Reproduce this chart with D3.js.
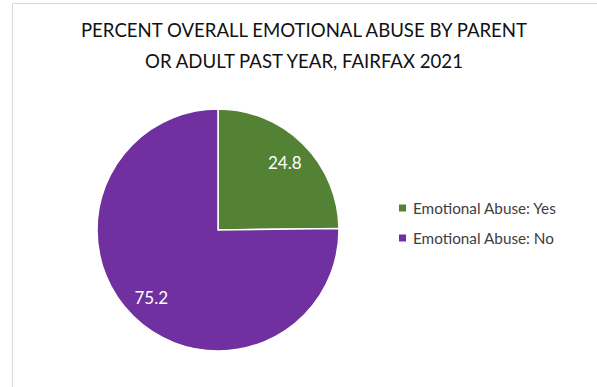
<!DOCTYPE html>
<html>
<head>
<meta charset="utf-8">
<script src="https://cdn.jsdelivr.net/npm/d3@7"></script>
<style>
  html, body { margin: 0; padding: 0; background: #fff; }
  svg { display: block; }
</style>
</head>
<body>
<svg id="chart" width="597" height="387"></svg>
<script>
// Chart data
const titleLines = ["PERCENT OVERALL EMOTIONAL ABUSE BY PARENT", "OR ADULT PAST YEAR, FAIRFAX 2021"];
const categories = ["Emotional Abuse: Yes", "Emotional Abuse: No"];
const values = [24.8, 75.2];
const colors = ["#548235", "#7030A0"];

const svg = d3.select("#chart");
const font = "Lato, 'Open Sans', sans-serif";

// chart frame
svg.append("path")
  .attr("d", "M12.5,387 V3.5 H597")
  .attr("fill", "none")
  .attr("stroke", "#d9d9d9")
  .attr("stroke-width", 1);

// title
svg.append("text")
  .attr("x", 304)
  .attr("y", 37)
  .attr("text-anchor", "middle")
  .attr("font-family", font)
  .attr("font-size", 18.6)
  .attr("fill", "#111")
  .selectAll("tspan")
  .data(titleLines)
  .join("tspan")
  .attr("x", 304)
  .attr("dy", (d, i) => i === 0 ? 0 : 31)
  .text(d => d);

// pie
const cx = 218, cy = 230, r = 121;
const color = d3.scaleOrdinal().domain(categories).range(colors);
const pie = d3.pie().sort(null).value(d => d.value);
const rows = categories.map((c, i) => ({ category: c, value: values[i] }));
const arcs = pie(rows);
const arc = d3.arc().innerRadius(0).outerRadius(r);
const labelArc = d3.arc().innerRadius(95).outerRadius(95);

const g = svg.append("g").attr("transform", `translate(${cx},${cy})`);
g.selectAll("path.slice")
  .data(arcs)
  .join("path")
  .attr("class", "slice")
  .attr("d", arc)
  .attr("fill", d => color(d.data.category))
  .attr("stroke", "#fff")
  .attr("stroke-width", 1.5);

g.selectAll("text.val")
  .data(arcs)
  .join("text")
  .attr("class", "val")
  .attr("transform", d => `translate(${labelArc.centroid(d)})`)
  .attr("text-anchor", "middle")
  .attr("dominant-baseline", "central")
  .attr("font-family", font)
  .attr("font-size", 17)
  .attr("fill", "#ffffff")
  .text(d => d.data.value.toFixed(1));

// legend
const legend = svg.append("g").attr("transform", "translate(399,0)");
const legendY = d3.scalePoint().domain(categories).range([208, 238]);
const items = legend.selectAll("g.item")
  .data(categories)
  .join("g")
  .attr("class", "item")
  .attr("transform", d => `translate(0,${legendY(d)})`);
items.append("rect")
  .attr("x", 0).attr("y", -3.5)
  .attr("width", 7).attr("height", 7)
  .attr("fill", d => color(d));
items.append("text")
  .attr("x", 14)
  .attr("y", 0)
  .attr("dominant-baseline", "central")
  .attr("font-family", font)
  .attr("font-size", 15.3)
  .attr("fill", "#404040")
  .text(d => d);
</script>
</body>
</html>
